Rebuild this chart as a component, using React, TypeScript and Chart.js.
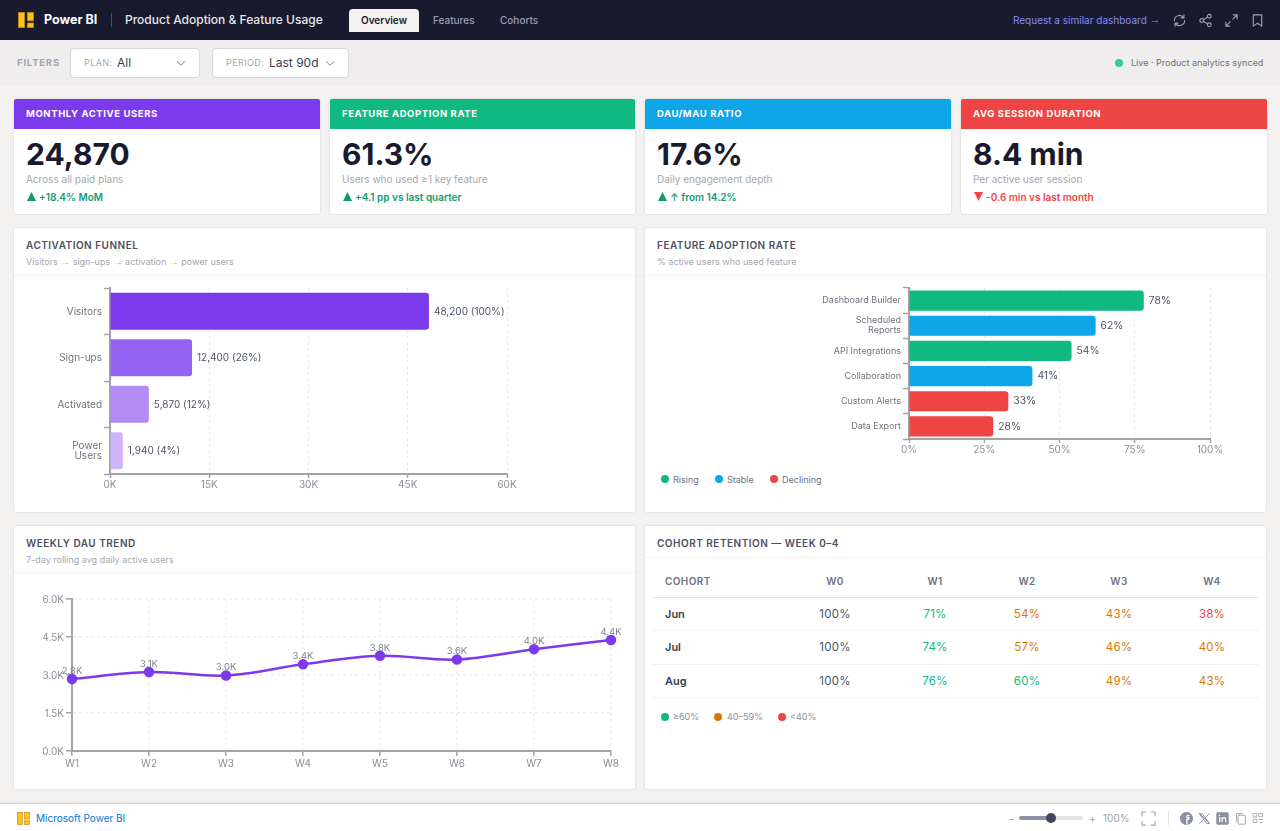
import React, { useEffect, useRef } from "react";
import { Chart, registerables } from "chart.js";

Chart.register(...registerables);

const FONT = "Inter, sans-serif";

const funnelLabels = ["Visitors", "Sign-ups", "Activated", ["Power", "Users"]];
const funnelValues = [48200, 12400, 5870, 1940];
const funnelShares = [100, 26, 12, 4];
const funnelColors = ["#7c3aed", "#9461f0", "#b28cf3", "#cdb4fb"];

const featureLabels = ["Dashboard Builder", ["Scheduled", "Reports"], "API Integrations", "Collaboration", "Custom Alerts", "Data Export"];
const featureValues = [78, 62, 54, 41, 33, 28];
const featureColors = ["#10b981", "#0ea5e9", "#10b981", "#0ea5e9", "#ef4444", "#ef4444"];

const weekLabels = ["W1", "W2", "W3", "W4", "W5", "W6", "W7", "W8"];
const dauValues = [2840, 3120, 2980, 3420, 3760, 3610, 4020, 4380];

const cohortWeeks = ["W0", "W1", "W2", "W3", "W4"];
const cohortNames = ["Jun", "Jul", "Aug"];
const cohortJun = [100, 71, 54, 43, 38];
const cohortJul = [100, 74, 57, 46, 40];
const cohortAug = [100, 76, 60, 49, 43];

const AXIS = "#a3a3a8";
const GRID = "#e6e6ea";
const GRID_LINE = "#efeff1";

const valueLabels = (texts: string[], size: number, dx: number, dy: number, align: CanvasTextAlign, color: string) => ({
  id: "valueLabels",
  afterDatasetsDraw(chart: any) {
    const { ctx } = chart;
    ctx.save();
    ctx.font = `${size}px ${FONT}`;
    ctx.fillStyle = color;
    ctx.textAlign = align;
    ctx.textBaseline = "middle";
    chart.getDatasetMeta(0).data.forEach((el: any, i: number) => {
      ctx.fillText(texts[i], el.x + dx, el.y + dy);
    });
    ctx.restore();
  },
});

const barOptions = (yWidth: number, xHeight: number, padRight: number, xMax: number, step: number, ySize: number, yShift: number, fmt: (v: number) => string) => ({
  indexAxis: "y",
  animation: false,
  responsive: true,
  maintainAspectRatio: false,
  layout: { padding: { top: 12, right: padRight, bottom: 0, left: 0 } },
  plugins: { legend: { display: false }, tooltip: { enabled: false } },
  scales: {
    x: {
      min: 0,
      max: xMax,
      afterFit: (s: any) => { s.height = xHeight; },
      border: { color: AXIS, width: 2, dash: [3, 3] },
      grid: { color: GRID, tickColor: AXIS, tickLength: 4, tickWidth: 1.5 },
      ticks: { stepSize: step, padding: 1, maxRotation: 0, color: "#8b8f98", font: { family: FONT, size: 10 }, callback: (v: any) => fmt(Number(v)) },
    },
    y: {
      afterFit: (s: any) => { s.width = yWidth; },
      border: { color: AXIS, width: 2 },
      grid: { drawOnChartArea: false, tickColor: AXIS, tickLength: 6, tickWidth: 1.5 },
      ticks: { padding: 2, labelOffset: yShift, color: "#70747d", font: { family: FONT, size: ySize, lineHeight: 10 / ySize } },
    },
  },
});

const FunnelChart = () => {
  const ref = useRef<HTMLCanvasElement>(null);
  useEffect(() => {
    const chart = new Chart(ref.current!, {
      type: "bar",
      data: {
        labels: funnelLabels,
        datasets: [{ data: funnelValues, backgroundColor: funnelColors, borderRadius: 3, barPercentage: 1, categoryPercentage: 0.8 }],
      },
      options: barOptions(96, 38, 128, 60000, 15000, 10, 0.5, (v) => `${v / 1000}K`),
      plugins: [valueLabels(funnelValues.map((v, i) => `${v.toLocaleString("en-US")} (${funnelShares[i]}%)`), 10, 5, 0.5, "left", "#4b5563")],
    } as any);
    return () => chart.destroy();
  }, []);
  return <canvas ref={ref} />;
};

const FeatureChart = () => {
  const ref = useRef<HTMLCanvasElement>(null);
  useEffect(() => {
    const chart = new Chart(ref.current!, {
      type: "bar",
      data: {
        labels: featureLabels,
        datasets: [{ data: featureValues, backgroundColor: featureColors, borderRadius: 3, barPercentage: 1, categoryPercentage: 0.8 }],
      },
      options: barOptions(264, 27, 56, 100, 25, 9, 0, (v) => `${v}%`),
      plugins: [valueLabels(featureValues.map((v) => `${v}%`), 10.3, 5, 0, "left", "#4b5563")],
    } as any);
    return () => chart.destroy();
  }, []);
  return <canvas ref={ref} />;
};

const DauChart = () => {
  const ref = useRef<HTMLCanvasElement>(null);
  useEffect(() => {
    const chart = new Chart(ref.current!, {
      type: "line",
      data: {
        labels: weekLabels,
        datasets: [{
          data: dauValues,
          borderColor: "#7c3aed",
          backgroundColor: "#7c3aed",
          borderWidth: 2.5,
          tension: 0.35,
          pointRadius: 4,
          clip: false,
        }],
      },
      options: {
        animation: false,
        responsive: true,
        maintainAspectRatio: false,
        layout: { padding: { top: 26, right: 24, bottom: 0, left: 0 } },
        plugins: { legend: { display: false }, tooltip: { enabled: false } },
        scales: {
          x: {
            afterFit: (s: any) => { s.height = 38; },
            border: { color: AXIS, width: 2, dash: [3, 3] },
            grid: { color: GRID_LINE, lineWidth: 1.6, tickColor: AXIS, tickLength: 5, tickWidth: 1.5 },
            ticks: { padding: 2, maxRotation: 0, color: "#8b8f98", font: { family: FONT, size: 10 } },
          },
          y: {
            min: 0,
            max: 6000,
            afterFit: (s: any) => { s.width = 58; },
            border: { color: AXIS, width: 2, dash: [3, 3] },
            grid: { color: GRID_LINE, lineWidth: 1.6, tickColor: AXIS, tickLength: 6, tickWidth: 1.5 },
            ticks: { stepSize: 1500, padding: 2, labelOffset: 1, color: "#8b8f98", font: { family: FONT, size: 10 }, callback: (v: any) => `${(Number(v) / 1000).toFixed(1)}K` },
          },
        },
      },
      plugins: [valueLabels(dauValues.map((v) => `${(v / 1000).toFixed(1)}K`), 9.5, 0, -8, "center", "#7d818a")],
    } as any);
    return () => chart.destroy();
  }, []);
  return <canvas ref={ref} />;
};

const Box = ({ x, y, w, h, style, children }: any) => (
  <div style={{ position: "absolute", left: x, top: y, width: w, height: h, ...style }}>{children}</div>
);

// y is the vertical centre of the line
const T = ({ x, y, size, color, weight = 400, spacing = 0, align = "left", children }: any) => (
  <div
    style={{
      position: "absolute",
      left: align === "center" ? x - 100 : x,
      top: y - 10,
      width: align === "center" ? 200 : undefined,
      height: 20,
      lineHeight: "20px",
      fontSize: size,
      color,
      fontWeight: weight,
      letterSpacing: spacing,
      textAlign: align,
      whiteSpace: "nowrap",
    }}
  >
    {children}
  </div>
);

// the long arrow of the original is not the one Inter has
const Arrow = () => <span style={{ fontFamily: "'Liberation Sans'", fontSize: "1.1em", lineHeight: 0, position: "relative", top: "-0.05em" }}>→</span>;

const Dot = ({ x, y, color, d = 8 }: any) => (
  <Box x={x - d / 2} y={y - d / 2} w={d} h={d} style={{ borderRadius: "50%", background: color }} />
);

const Logo = ({ x, y, s = 1 }: any) => (
  <svg style={{ position: "absolute", left: x, top: y }} width={16 * s} height={16 * s} viewBox="0 0 16 16" stroke="#c9820f" strokeWidth="0.8" fill="#f8c51c">
    <rect x="0.4" y="0.4" width="6.2" height="15.2" />
    <rect x="9.4" y="0.4" width="6.2" height="8.4" />
    <rect x="9.4" y="11" width="6.2" height="4.6" />
  </svg>
);

const Icon = ({ x, y, size = 15, color = "#9ca3af", fill = "none", width = 1.2, children }: any) => (
  <svg
    style={{ position: "absolute", left: x - size / 2, top: y - size / 2 }}
    width={size}
    height={size}
    viewBox="0 0 16 16"
    fill={fill}
    stroke={color}
    strokeWidth={width}
    strokeLinecap="round"
    strokeLinejoin="round"
  >
    {children}
  </svg>
);

const Chevron = ({ x, y }: any) => (
  <Icon x={x} y={y} size={12} color="#6b7280">
    <path d="M3 6 L8 11 L13 6" />
  </Icon>
);

const kpiTitles = ["MONTHLY ACTIVE USERS", "FEATURE ADOPTION RATE", "DAU/MAU RATIO", "AVG SESSION DURATION"];
const kpiValues = ["24,870", "61.3%", "17.6%", "8.4 min"];
const kpiNotes = ["Across all paid plans", "Users who used ≥1 key feature", "Daily engagement depth", "Per active user session"];
const kpiDeltas = ["+18.4% MoM", "+4.1 pp vs last quarter", "↑ from 14.2%", "-0.6 min vs last month"];
const kpiColors = ["#7c3aed", "#10b981", "#0ea5e9", "#ef4444"];
const kpiLefts = [14, 330, 645, 961];

const Kpi = ({ i }: any) => {
  const x = kpiLefts[i];
  const up = i !== 3;
  const dc = up ? "#0f9a76" : "#ef4444";
  return (
    <>
      <Box x={x} y={99} w={i === 1 ? 305 : 306} h={115} style={{ background: "#fff", boxShadow: "0 0 2px rgba(0,0,0,0.18)", borderRadius: 2 }} />
      <Box x={x} y={99} w={i === 1 ? 305 : 306} h={30} style={{ background: kpiColors[i], borderRadius: "2px 2px 0 0" }} />
      <T x={x + 12} y={114} size={9.5} color="#fff" weight={700} spacing={0.6}>{kpiTitles[i]}</T>
      <T x={x + 12} y={154} size={30} color="#1a1a2e" weight={700}>{kpiValues[i]}</T>
      <T x={x + 12} y={179} size={10} color="#a3a7b0">{kpiNotes[i]}</T>
      <svg style={{ position: "absolute", left: x + 13, top: 192 }} width="9" height="9" viewBox="0 0 9 9">
        <path d={up ? "M4.5 0 L9 9 L0 9 Z" : "M0 0 L9 0 L4.5 9 Z"} fill={dc} />
      </svg>
      <T x={x + 25} y={197} size={10} color={dc} weight={600}>{kpiDeltas[i]}</T>
    </>
  );
};

const Panel = ({ x, y, w, h, title, sub, divider }: any) => (
  <>
    <Box x={x} y={y} w={w} h={h} style={{ background: "#fff", boxShadow: "0 0 2px rgba(0,0,0,0.18)", borderRadius: 2 }} />
    <T x={x + 12} y={y + 17} size={10} color="#4b5060" weight={600} spacing={0.5}>{title}</T>
    {sub && <T x={x + 12} y={y + 34} size={9} color="#a3a7b0">{sub}</T>}
    <Box x={x} y={divider} w={w} h={1} style={{ background: "#f1f1f4" }} />
  </>
);

const retentionColor = (v: number) => {
  if (v === 100) return "#4b5563";
  if (v >= 60) return "#10b981";
  if (v >= 40) return "#d97706";
  return "#ef4444";
};

const cohortCenters = [835, 935, 1027, 1119, 1212];
const cohortRowY = [614, 647, 681];
const cohortRuleY = [597, 630, 664, 697];

const CohortTable = () => {
  const rows = [cohortJun, cohortJul, cohortAug];
  return (
    <>
      <T x={665} y={581} size={10} color="#6b7280" weight={600} spacing={0.4}>COHORT</T>
      {cohortWeeks.map((w, i) => (
        <T key={w} x={cohortCenters[i]} y={581} size={10} color="#6b7280" weight={600} spacing={0.4} align="center">{w}</T>
      ))}
      {cohortRuleY.map((y, i) => (
        <Box key={y} x={653} y={y} w={605} h={1} style={{ background: i === 0 ? "#e3e4e8" : "#f0f0f3" }} />
      ))}
      {rows.map((row, r) => (
        <React.Fragment key={cohortNames[r]}>
          <T x={665} y={cohortRowY[r]} size={11} color="#374151" weight={600}>{cohortNames[r]}</T>
          {row.map((v, c) => (
            <T key={c} x={cohortCenters[c]} y={cohortRowY[r]} size={11.5} spacing={0.2} color={retentionColor(v)} align="center">{v}%</T>
          ))}
        </React.Fragment>
      ))}
    </>
  );
};

export default function App() {
  return (
    <div style={{ position: "fixed", left: 0, top: 0, width: 1280, height: 831, overflow: "hidden", background: "#f3f2f1", fontFamily: FONT }}>
      {/* top bar */}
      <Box x={0} y={0} w={1280} h={40} style={{ background: "#1a1a2e" }} />
      <Logo x={18} y={12} />
      <T x={44} y={20} size={12.5} color="#fff" weight={700}>Power BI</T>
      <Box x={111} y={13} w={1} h={14} style={{ background: "#4a4c60" }} />
      <T x={125} y={20} size={12} color="#e5e7eb" weight={500}>Product Adoption &amp; Feature Usage</T>
      <Box x={349} y={9} w={70} h={23} style={{ background: "#f3f2f1", borderRadius: "4px 4px 0 0" }} />
      <T x={384} y={20} size={10} color="#1a1a2e" weight={600} align="center">Overview</T>
      <T x={433} y={20} size={10} color="#9a9cb0" weight={500}>Features</T>
      <T x={500} y={20} size={10} color="#9a9cb0" weight={500}>Cohorts</T>
      <T x={1013} y={20} size={10} color="#818cf8">Request a similar dashboard <Arrow /></T>
      <Icon x={1179} y={20}>
        <path d="M13.5 8 A5.5 5.5 0 0 1 3.5 11 M2.5 8 A5.5 5.5 0 0 1 12.5 5 M12.8 2 V5.2 H9.6 M3.2 14 V10.8 H6.4" />
      </Icon>
      <Icon x={1205} y={20}>
        <circle cx="12" cy="3.5" r="2" /><circle cx="4" cy="8" r="2" /><circle cx="12" cy="12.5" r="2" />
        <path d="M5.8 7 L10.2 4.5 M5.8 9 L10.2 11.5" />
      </Icon>
      <Icon x={1231} y={20}>
        <path d="M9.5 6.5 L14 2 M10 2 H14 V6 M6.5 9.5 L2 14 M2 10 V14 H6" />
      </Icon>
      <Icon x={1257} y={20}>
        <path d="M3.5 2 H12.5 V14 L8 11 L3.5 14 Z" />
      </Icon>

      {/* filter bar */}
      <Box x={0} y={40} w={1280} h={46} style={{ background: "#efedee" }} />
      <T x={17} y={62.5} size={9.5} color="#a3a7b0" weight={700} spacing={0.8}>FILTERS</T>
      <Box x={70} y={48} w={130} h={30} style={{ background: "#fff", border: "1px solid #d5d7dd", borderRadius: 4, boxSizing: "border-box" }} />
      <T x={84} y={62.5} size={9} color="#a3a7b0" spacing={0.4}>PLAN:</T>
      <T x={117} y={62.5} size={12} color="#374151">All</T>
      <Chevron x={181} y={63} />
      <Box x={212} y={48} w={137} h={30} style={{ background: "#fff", border: "1px solid #d5d7dd", borderRadius: 4, boxSizing: "border-box" }} />
      <T x={226} y={62.5} size={9} color="#a3a7b0" spacing={0.4}>PERIOD:</T>
      <T x={269} y={62.5} size={12} color="#374151">Last 90d</T>
      <Chevron x={330} y={63} />
      <Dot x={1119} y={63} color="#34c997" />
      <T x={1131} y={62.5} size={9} color="#6b7280">Live · Product analytics synced</T>

      {[0, 1, 2, 3].map((i) => <Kpi key={i} i={i} />)}

      {/* funnel */}
      <Panel x={14} y={228} w={621} h={284} divider={275} title="ACTIVATION FUNNEL" sub={<>Visitors <Arrow /> sign-ups <Arrow /> activation <Arrow /> power users</>} />
      <Box x={14} y={276} w={621} h={236}><FunnelChart /></Box>

      {/* feature adoption */}
      <Panel x={645} y={228} w={621} h={284} divider={275} title="FEATURE ADOPTION RATE" sub="% active users who used feature" />
      <Box x={645} y={276} w={621} h={190}><FeatureChart /></Box>
      <Dot x={665} y={479} color="#10b981" />
      <T x={673} y={479.5} size={9} color="#6b7280">Rising</T>
      <Dot x={719} y={479} color="#0ea5e9" />
      <T x={727} y={479.5} size={9} color="#6b7280">Stable</T>
      <Dot x={774} y={479} color="#ef4444" />
      <T x={782} y={479.5} size={9} color="#6b7280">Declining</T>

      {/* DAU trend */}
      <Panel x={14} y={526} w={621} h={263} divider={572} title="WEEKLY DAU TREND" sub="7-day rolling avg daily active users" />
      <Box x={14} y={573} w={621} h={216}><DauChart /></Box>

      {/* cohort table */}
      <Panel x={645} y={526} w={621} h={263} divider={557} title="COHORT RETENTION — WEEK 0–4" />
      <CohortTable />
      <Dot x={665} y={717} color="#10b981" />
      <T x={673} y={716.5} size={9} color="#8b8f98">≥60%</T>
      <Dot x={718} y={717} color="#d97706" />
      <T x={727} y={716.5} size={9} color="#8b8f98">40–59%</T>
      <Dot x={782} y={717} color="#ef4444" />
      <T x={790} y={716.5} size={9} color="#8b8f98">&lt;40%</T>

      {/* footer */}
      <Box x={0} y={803} w={1280} h={28} style={{ background: "#fff", borderTop: "1px solid #d5d7dd", boxSizing: "border-box", boxShadow: "0 -1px 2px rgba(0,0,0,0.08)" }} />
      <Logo x={17} y={812} s={0.8} />
      <T x={36} y={817.5} size={10} color="#0078d4">Microsoft Power BI</T>
      <T x={1008} y={817.5} size={10} color="#9ca3af">−</T>
      <Box x={1019} y={816} w={64} h={4} style={{ background: "#e3e4e8", borderRadius: 2 }} />
      <Box x={1019} y={816} w={32} h={4} style={{ background: "#8b90a0", borderRadius: 2 }} />
      <Dot x={1051} y={818} color="#3f4560" d={10} />
      <T x={1089} y={817.5} size={10} color="#9ca3af">+</T>
      <T x={1103} y={817.5} size={10} color="#9ca3af">100%</T>
      <Icon x={1148} y={818} size={15}>
        <path d="M1 5 V1 H5 M11 1 H15 V5 M15 11 V15 H11 M5 15 H1 V11" />
      </Icon>
      <Box x={1168} y={811} w={1} h={14} style={{ background: "#e3e4e8" }} />
      <Icon x={1186} y={818} size={13} color="#8b90a0" fill="#8b90a0">
        <circle cx="8" cy="8" r="7.5" />
        <path d="M8.5 15 V9 H10.5 L11 7 H8.5 V5.5 Q8.5 4.5 9.5 4.5 H11" stroke="#fff" strokeWidth="1.6" fill="none" />
      </Icon>
      <Icon x={1204} y={818} size={13} color="#8b90a0">
        <path d="M2 2 L14 14 M14 2 L2 14 M2 2 H5 L14 14 H11 Z" />
      </Icon>
      <Icon x={1222} y={818} size={13} color="#8b90a0" fill="#8b90a0">
        <rect x="1" y="1" width="14" height="14" rx="1" />
        <path d="M4.5 7 V12 M4.5 4 V4.5 M7.5 12 V7 M7.5 9 Q8 7 10 7 Q12 7 12 9.5 V12" stroke="#fff" strokeWidth="1.6" fill="none" />
      </Icon>
      <Icon x={1240} y={818} size={13} color="#a3a7b0">
        <rect x="5" y="4" width="9" height="11" rx="1" />
        <path d="M3 12 V2 H10" />
      </Icon>
      <Icon x={1258} y={818} size={12} color="#a3a7b0">
        <rect x="2" y="2" width="4.5" height="4.5" /><rect x="9.5" y="2" width="4.5" height="4.5" /><rect x="2" y="9.5" width="4.5" height="4.5" />
        <path d="M9.5 10 H14 M11 14 H14" />
      </Icon>
    </div>
  );
}
